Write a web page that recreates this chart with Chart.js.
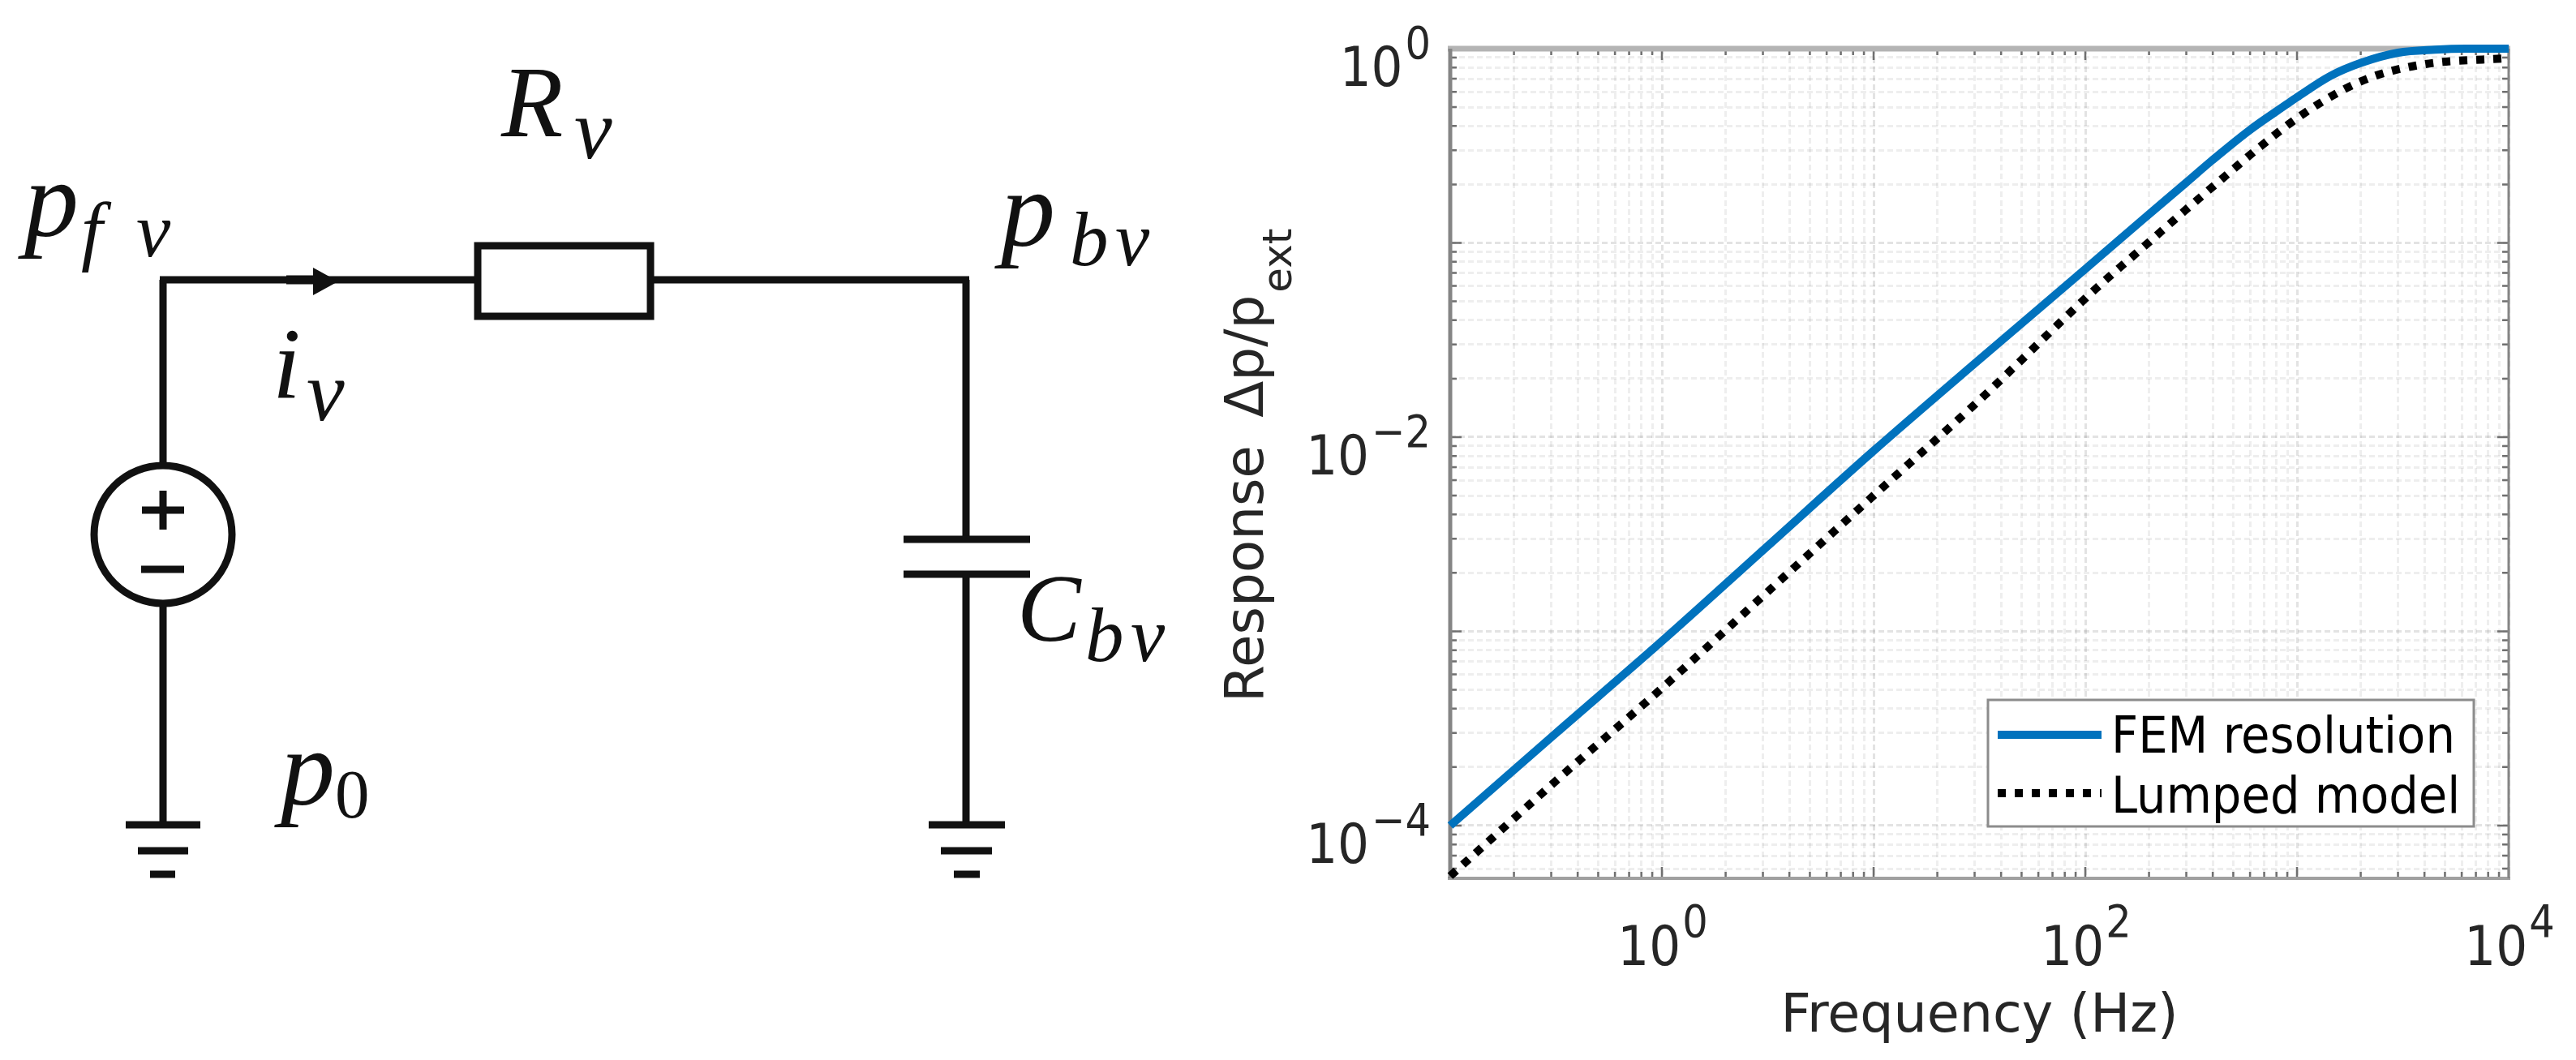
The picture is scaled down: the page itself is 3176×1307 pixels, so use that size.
<!DOCTYPE html>
<html lang="en">
<head>
<meta charset="UTF-8" />
<title>Response of the lumped model</title>
<script src="https://cdn.jsdelivr.net/npm/chart.js@4/dist/chart.umd.js"></script>
<style>
  html, body { margin: 0; padding: 0; background: #fff; }
  #page { position: relative; width: 3176px; height: 1307px; overflow: hidden; }
  #circuit { position: absolute; left: 0; top: 0; }
  #circuit line, #circuit rect, #circuit circle { stroke: #111; stroke-width: 9; fill: none; }
  #circuit text { font-family: "Liberation Serif", serif; font-style: italic; fill: #111; }
  #myChart { position: absolute; left: 1450px; top: 0; }
</style>
</head>
<body>
<div id="page">
  <svg id="circuit" width="1450" height="1307">
    <line x1="201" y1="345" x2="201" y2="574" />
    <line x1="197" y1="345" x2="589" y2="345" />
    <rect x="589" y="303" width="213" height="87" />
    <line x1="802" y1="345" x2="1195" y2="345" />
    <polygon points="386,330 417,347 386,364" fill="#111" />
    <line x1="353" y1="345" x2="390" y2="345" style="stroke-width:11" />
    <circle cx="201" cy="659" r="85" />
    <line x1="175" y1="629" x2="227" y2="629" />
    <line x1="201" y1="605" x2="201" y2="653" />
    <line x1="174" y1="702" x2="227" y2="702" />
    <line x1="201" y1="744" x2="201" y2="1017" />
    <line x1="155" y1="1017" x2="247" y2="1017" />
    <line x1="170" y1="1049" x2="232" y2="1049" />
    <line x1="185" y1="1078" x2="216" y2="1078" />
    <line x1="1191" y1="345" x2="1191" y2="665" />
    <line x1="1114" y1="665" x2="1270" y2="665" />
    <line x1="1114" y1="708" x2="1270" y2="708" />
    <line x1="1191" y1="708" x2="1191" y2="1017" />
    <line x1="1145" y1="1017" x2="1239" y2="1017" />
    <line x1="1160" y1="1049" x2="1223" y2="1049" />
    <line x1="1176" y1="1078" x2="1208" y2="1078" />
    <text x="618" y="168" font-size="125">R</text>
    <text x="708" y="195" font-size="105">v</text>
    <text x="30" y="291" font-size="134">p</text>
    <text x="100" y="316" font-size="95">f</text>
    <text x="168" y="316" font-size="95">v</text>
    <text x="1234" y="303" font-size="134">p</text>
    <text x="1319" y="327" font-size="95">b</text>
    <text x="1375" y="327" font-size="95">v</text>
    <text x="336" y="491" font-size="125">i</text>
    <text x="378" y="518" font-size="105">v</text>
    <text x="346" y="992" font-size="134">p</text>
    <text x="413" y="1008" font-size="85" style="font-style:normal">0</text>
    <text x="1254" y="790" font-size="118">C</text>
    <text x="1338" y="815" font-size="95">b</text>
    <text x="1394" y="815" font-size="95">v</text>
  </svg>
  <canvas id="myChart" width="1726" height="1307"></canvas>
</div>

<script>
// values
const femFreq = [0.1, 0.316, 1, 3.16, 10, 31.6, 100, 184, 299, 397, 596, 899, 1000, 1439, 2018, 3006, 4470, 6260, 10000];
const femResp = [1.0e-4, 2.99e-4, 8.9e-4, 2.75e-3, 8.5e-3, 2.51e-2, 0.0733, 0.130, 0.204, 0.266, 0.380, 0.519, 0.562, 0.724, 0.847, 0.953, 0.988, 1.0, 1.0];
const lumpedFreq = [0.1, 0.316, 1, 3.16, 10, 31.6, 112, 194, 292, 441, 670, 1035, 1641, 2307, 3281, 4667, 5636, 9550, 10000];
const lumpedResp = [5.5e-5, 1.7e-4, 5.1e-4, 1.6e-3, 5.0e-3, 1.55e-2, 5.8e-2, 0.098, 0.145, 0.213, 0.313, 0.450, 0.612, 0.721, 0.80, 0.851, 0.865, 0.89, 0.893];

const xTickExps = [0, 2, 4];
const yTickExps = [0, -2, -4];
const xTitle = 'Frequency (Hz)';
const yTitle = 'Response \u2009\u0394p/p';
const yTitleSub = 'ext';

const xMin = 0.1, xMax = 1e4;
const yMin = 5.35e-5, yMax = 1;

const blue = '#0072BD';
const textColor = '#262626';
const numFont = '"DejaVu Sans", sans-serif';

// all the 1..9 x 10^k lines between lo and hi
function logLines(lo, hi) {
  const out = [];
  for (let k = -6; k <= 5; k++) {
    for (let m = 1; m <= 9; m++) {
      const v = Number(m + 'e' + k);
      if (v >= lo * 0.999 && v <= hi * 1.001) out.push(v);
    }
  }
  return out;
}
const isMajor = v => Number.isInteger(Math.round(Math.log10(v) * 1e6) / 1e6);

function gridOpts() {
  return {
    color: c => (c.tick && isMajor(c.tick.value)) ? 'rgba(0,0,0,0.11)' : 'rgba(0,0,0,0.065)',
    lineWidth: 3,
    drawTicks: false
  };
}

// the reference text is a bit narrower than the font
function narrowText(ctx, s, x, y, sx) {
  ctx.save();
  ctx.translate(x, y);
  ctx.scale(sx, 1);
  ctx.fillText(s, 0, 0);
  ctx.restore();
}

const frame = {
  id: 'frame',
  beforeDatasetsDraw(chart) {
    const { ctx, chartArea: a, scales: { x, y } } = chart;
    ctx.save();
    ctx.strokeStyle = '#707070';
    ctx.lineWidth = 2.5;
    ctx.beginPath();
    x.ticks.forEach(t => {
      const px = x.getPixelForValue(t.value), len = isMajor(t.value) ? 14 : 8;
      ctx.moveTo(px, a.bottom); ctx.lineTo(px, a.bottom - len);
      ctx.moveTo(px, a.top); ctx.lineTo(px, a.top + len);
    });
    y.ticks.forEach(t => {
      const py = y.getPixelForValue(t.value), len = isMajor(t.value) ? 14 : 8;
      ctx.moveTo(a.left, py); ctx.lineTo(a.left + len, py);
      ctx.moveTo(a.right, py); ctx.lineTo(a.right - len, py);
    });
    ctx.stroke();

    // box
    ctx.strokeStyle = '#b4b4b4';
    ctx.lineWidth = 7;
    ctx.beginPath(); ctx.moveTo(a.left - 3, a.top); ctx.lineTo(a.right + 2, a.top); ctx.stroke();
    ctx.strokeStyle = '#a0a0a0';
    ctx.lineWidth = 4;
    ctx.beginPath(); ctx.moveTo(a.left - 3, a.bottom); ctx.lineTo(a.right + 2, a.bottom); ctx.stroke();
    ctx.strokeStyle = '#858585';
    ctx.lineWidth = 5;
    ctx.beginPath(); ctx.moveTo(a.left, a.top); ctx.lineTo(a.left, a.bottom); ctx.stroke();
    ctx.lineWidth = 3;
    ctx.beginPath(); ctx.moveTo(a.right, a.top); ctx.lineTo(a.right, a.bottom); ctx.stroke();
    ctx.restore();
  },
  afterDatasetsDraw(chart) {
    const { ctx, chartArea: a, scales: { x, y } } = chart;
    const squeeze = 0.9;
    ctx.save();
    ctx.fillStyle = textColor;
    ctx.textBaseline = 'alphabetic';
    ctx.textAlign = 'left';

    // x tick labels, 10 + raised exponent
    xTickExps.forEach(e => {
      const px = x.getPixelForValue(Math.pow(10, e));
      const sup = String(e);
      ctx.font = '68px ' + numFont;
      const w10 = ctx.measureText('10').width * squeeze;
      ctx.font = '55px ' + numFont;
      const wSup = ctx.measureText(sup).width * squeeze;
      const left = px - (w10 + wSup) / 2;
      ctx.font = '68px ' + numFont;
      narrowText(ctx, '10', left, a.bottom + 107, squeeze);
      ctx.font = '55px ' + numFont;
      narrowText(ctx, sup, left + w10 + 2, a.bottom + 72, squeeze);
    });

    // y tick labels
    yTickExps.forEach(e => {
      const py = y.getPixelForValue(Math.pow(10, e));
      const sup = e < 0 ? '\u2212' + Math.abs(e) : String(e);
      ctx.font = '55px ' + numFont;
      const wSup = ctx.measureText(sup).width * squeeze;
      narrowText(ctx, sup, a.left - 24 - wSup, py + 12, squeeze);
      ctx.font = '68px ' + numFont;
      const w10 = ctx.measureText('10').width * squeeze;
      narrowText(ctx, '10', a.left - 24 - wSup - 3 - w10, py + 46, squeeze);
    });

    // axis titles
    ctx.textAlign = 'center';
    ctx.font = '65px ' + numFont;
    ctx.fillText(xTitle, (a.left + a.right) / 2, 1272);

    ctx.save();
    ctx.translate(1557 - 1450, 866);
    ctx.rotate(-Math.PI / 2);
    ctx.textAlign = 'left';
    ctx.font = '66px ' + numFont;
    ctx.fillText(yTitle, 0, 0);
    const w = ctx.measureText(yTitle).width;
    ctx.font = '50px ' + numFont;
    ctx.fillText(yTitleSub, w + 3, 35);
    ctx.restore();

    // legend box
    const box = { l: 2451 - 1450, t: 863, r: 3050 - 1450, b: 1019 };
    ctx.fillStyle = '#fff';
    ctx.fillRect(box.l, box.t, box.r - box.l, box.b - box.t);
    ctx.strokeStyle = '#8c8c8c';
    ctx.lineWidth = 3;
    ctx.strokeRect(box.l, box.t, box.r - box.l, box.b - box.t);

    const rows = [{ line: 906, text: 928 }, { line: 978, text: 1002 }];
    chart.data.datasets.forEach((ds, i) => {
      ctx.save();
      ctx.strokeStyle = ds.borderColor;
      ctx.lineWidth = ds.borderWidth;
      ctx.setLineDash(ds.borderDash || []);
      ctx.beginPath();
      ctx.moveTo(2463 - 1450, rows[i].line);
      ctx.lineTo(2591 - 1450, rows[i].line);
      ctx.stroke();
      ctx.restore();
      ctx.fillStyle = '#000';
      ctx.textAlign = 'left';
      ctx.font = '62px ' + numFont;
      narrowText(ctx, ds.label, 2603 - 1450, rows[i].text, 0.93);
    });
    ctx.restore();
  }
};

const ctx = document.getElementById('myChart').getContext('2d');
const myChart = new Chart(ctx, {
  type: 'line',
  data: {
    datasets: [{
      label: 'FEM resolution',
      data: femFreq.map((f, i) => ({ x: f, y: femResp[i] })),
      borderColor: blue,
      borderWidth: 10,
      pointRadius: 0,
      cubicInterpolationMode: 'monotone',
      clip: 8
    }, {
      label: 'Lumped model',
      data: lumpedFreq.map((f, i) => ({ x: f, y: lumpedResp[i] })),
      borderColor: '#000000',
      borderWidth: 10,
      borderDash: [10, 11],
      pointRadius: 0,
      cubicInterpolationMode: 'monotone',
      clip: 8
    }]
  },
  options: {
    responsive: false,
    animation: false,
    devicePixelRatio: 1,
    layout: { padding: { left: 338, right: 83, top: 60, bottom: 224 } },
    plugins: { legend: { display: false }, tooltip: { enabled: false } },
    scales: {
      x: {
        type: 'logarithmic',
        min: xMin,
        max: xMax,
        afterBuildTicks: s => { s.ticks = logLines(xMin, xMax).map(v => ({ value: v })); },
        ticks: { display: false, autoSkip: false },
        grid: gridOpts(),
        border: { display: false, dash: [7, 4] }
      },
      y: {
        type: 'logarithmic',
        min: yMin,
        max: yMax,
        afterBuildTicks: s => { s.ticks = logLines(yMin, yMax).map(v => ({ value: v })); },
        ticks: { display: false, autoSkip: false },
        grid: gridOpts(),
        border: { display: false, dash: [7, 4] }
      }
    }
  },
  plugins: [frame]
});
</script>
</body>
</html>
